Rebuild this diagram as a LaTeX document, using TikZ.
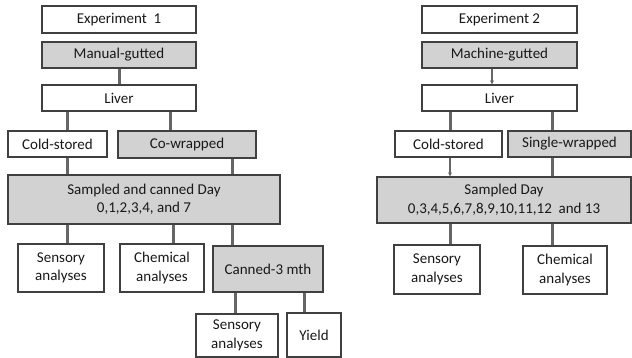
\documentclass[tikz,border=0pt]{standalone}
\usepackage{fontspec}
\setmainfont{Carlito}
\usetikzlibrary{arrows.meta}
\begin{document}
\begin{tikzpicture}[x=1pt,y=-1pt,
		box/.style={draw=black!75,line width=1.3pt,fill=white,text=black!90,align=center,inner sep=0pt,font=\fontsize{15}{18.5}\selectfont},
		greybox/.style={box,fill=gray!35},
		link/.style={draw=black!60,line width=3pt},
		arrowlink/.style={link,line width=2.5pt,-{Stealth[length=4pt,width=4pt]}}]
		
		\useasboundingbox (0,0) rectangle (632,358);
		
		% Experimento 1
		\node[box,minimum width=154pt,minimum height=27pt] (expA) at (119,19.5) {Experiment\ \ 1};
		\node[greybox,minimum width=154pt,minimum height=26pt] (gutA) at (119,55) {Manual-gutted};
		\node[box,minimum width=154pt,minimum height=26pt] (liverA) at (119,98) {Liver};
		\node[box,minimum width=99pt,minimum height=26pt] (coldA) at (57.5,144) {Cold-stored};
		\node[greybox,minimum width=138pt,minimum height=27pt] (wrapA) at (187,144.5) {Co-wrapped};
		\node[greybox,minimum width=272pt,minimum height=49pt] (sampA) at (144,199.5) {Sampled and canned Day\\0,1,2,3,4, and 7};
		\node[box,minimum width=86pt,minimum height=48pt] (sensA) at (61,268) {Sensory\\analyses};
		\node[box,minimum width=84pt,minimum height=48pt] (chemA) at (162,268) {Chemical\\analyses};
		\node[greybox,minimum width=110pt,minimum height=46pt] (cannA) at (268,269) {Canned-3 mth};
		\node[box,minimum width=82pt,minimum height=43pt] (sensB) at (237,335.5) {Sensory\\analyses};
		\node[box,minimum width=54pt,minimum height=44pt] (yield) at (314,335) {Yield};
		
		\draw[link] (gutA.south) -- (liverA.north);
		\draw[link] (liverA.south -| 67,0) -- (coldA.north -| 67,0);
		\draw[link] (liverA.south -| 170,0) -- (wrapA.north -| 170,0);
		\draw[link] (coldA.south -| 67,0) -- (sampA.north -| 67,0);
		\draw[link] (wrapA.south -| 232,0) -- (sampA.north -| 232,0);
		\draw[link] (sampA.south -| 67,0) -- (sensA.north -| 67,0);
		\draw[link] (sampA.south -| 173,0) -- (chemA.north -| 173,0);
		\draw[link] (sampA.south -| 232,0) -- (cannA.north -| 232,0);
		\draw[link] (cannA.south -| 235,0) -- (sensB.north -| 235,0);
		\draw[link] (cannA.south -| 304,0) -- (yield.north -| 304,0);
		
		% Experimento 2
		\node[box,minimum width=155pt,minimum height=27pt] (expB) at (499.5,19.5) {Experiment 2};
		\node[greybox,minimum width=155pt,minimum height=26pt] (gutB) at (499.5,55) {Machine-gutted};
		\node[box,minimum width=155pt,minimum height=26pt] (liverB) at (499.5,98) {Liver};
		\node[box,minimum width=107pt,minimum height=26pt] (coldB) at (448.5,144) {Cold-stored};
		\node[greybox,minimum width=123pt,minimum height=26pt] (wrapB) at (569.5,144) {Single-wrapped};
		\node[greybox,minimum width=254pt,minimum height=46pt] (sampB) at (504,200) {Sampled Day\\0,3,4,5,6,7,8,9,10,11,12\ \ and 13};
		\node[box,minimum width=86pt,minimum height=49pt] (sensC) at (437,269.5) {Sensory\\analyses};
		\node[box,minimum width=84pt,minimum height=48pt] (chemC) at (565,270) {Chemical\\analyses};
		
		\draw[arrowlink] (gutB.south -| 492,0) -- (liverB.north -| 492,0);
		\draw[link] (liverB.south -| 450,0) -- (coldB.north -| 450,0);
		\draw[link] (liverB.south -| 552,0) -- (wrapB.north -| 552,0);
		\draw[arrowlink] (coldB.south -| 450,0) -- (sampB.north -| 450,0);
		\draw[link] (wrapB.south -| 552,0) -- (sampB.north -| 552,0);
		\draw[link] (sampB.south -| 450,0) -- (sensC.north -| 450,0);
		\draw[link] (sampB.south -| 552,0) -- (chemC.north -| 552,0);
		
	\end{tikzpicture}
\end{document}
